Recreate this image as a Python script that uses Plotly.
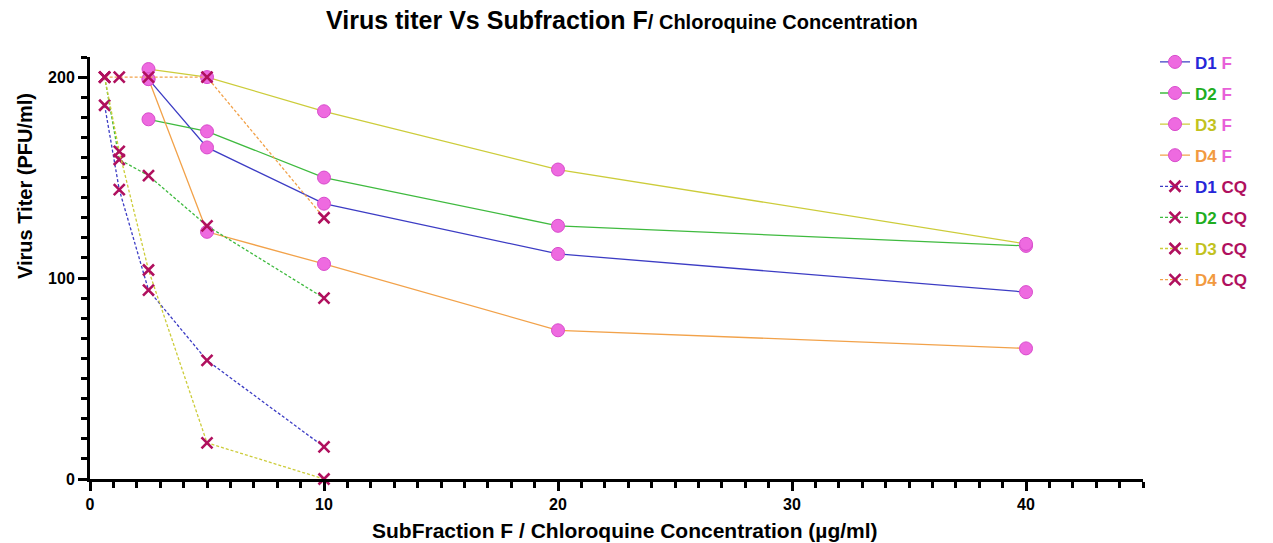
import plotly.graph_objects as go

# Concentrations
conc_f = [2.5, 5, 10, 20, 40]
conc_cq = [0.625, 1.25, 2.5, 5, 10]

# Subfraction F series (virus titer)
d1_f = [199, 165, 137, 112, 93]
d2_f = [179, 173, 150, 126, 116]
d3_f = [204, 200, 183, 154, 117]
d4_f = [199, 123, 107, 74, 65]

# Chloroquine series
d1_cq = [186, 144, 94, 59, 16]
d2_cq = [200, 159, 151, 126, 90]
d3_cq = [200, 163, 104, 18, 0]
d4_cq = [200, 200, 200, 200, 130]

names = ["D1", "D2", "D3", "D4"]
line_colors = ["#3c3cc4", "#3fba3f", "#cccc3a", "#f2a24a"]
text_colors = ["#2626d8", "#1fae1f", "#c2c21e", "#f29a40"]
F_COLOR = "#e860d8"
CQ_COLOR = "#b0105e"

# plot area at x 90..1143, y 57..479 (body margin removed via post_script)
W, H = 1273, 543
L, R, T, B = 90, 130, 57, 64
PH = H - T - B
PW = W - L - R

fig = go.Figure()

f_series = [d1_f, d2_f, d3_f, d4_f]
cq_series = [d1_cq, d2_cq, d3_cq, d4_cq]

for i, ys in enumerate(f_series):
    fig.add_trace(go.Scatter(
        x=conc_f, y=ys, mode="lines+markers",
        name=f"<b><span style='color:{text_colors[i]}'>{names[i]}</span> <span style='color:{F_COLOR}'>F</span></b>",
        line=dict(color=line_colors[i], width=1.3),
        marker=dict(symbol="circle", size=13, color="#ee6ae0", line=dict(color="#d84ccc", width=1)),
        legendgroup=f"f{i}", cliponaxis=False,
    ))

for i, ys in enumerate(cq_series):
    fig.add_trace(go.Scatter(
        x=conc_cq, y=ys, mode="lines+markers",
        name=f"<b><span style='color:{text_colors[i]}'>{names[i]}</span> <span style='color:{CQ_COLOR}'>CQ</span></b>",
        line=dict(color=line_colors[i], width=1.3, dash="3px,2px"),
        marker=dict(symbol="x-thin-open", size=11, color=CQ_COLOR, line=dict(color=CQ_COLOR, width=2.6)),
        legendgroup=f"c{i}", cliponaxis=False,
    ))

fig.update_layout(
    width=W, height=H,
    margin=dict(l=L, r=R, t=T, b=B, autoexpand=False),
    paper_bgcolor="white", plot_bgcolor="white",
    font=dict(family="Liberation Sans, Arial, sans-serif", color="black"),
    showlegend=True,
    legend=dict(
        x=1.0114, xanchor="left", y=1.03, yanchor="top",
        font=dict(size=17, family="Liberation Sans, Arial, sans-serif"),
        traceorder="grouped", tracegroupgap=6, maxheight=480,
        bgcolor="rgba(0,0,0,0)", itemwidth=30,
    ),
    xaxis=dict(
        range=[0, 45], tickvals=[0, 10, 20, 30, 40], ticktext=["<b>0</b>", "<b>10</b>", "<b>20</b>", "<b>30</b>", "<b>40</b>"],
        showgrid=False, zeroline=False, automargin=False,
        showline=True, linecolor="black", linewidth=3,
        ticks="outside", ticklen=9, tickwidth=2.5, tickcolor="black",
        tickfont=dict(size=16, color="black"),
        minor=dict(dtick=1, ticks="outside", ticklen=6, tickwidth=2.5, tickcolor="black", showgrid=False),
    ),
    yaxis=dict(
        range=[0, 210], tickvals=[0, 100, 200], ticktext=["<b>0</b>", "<b>100</b>", "<b>200</b>"],
        showgrid=False, zeroline=False, automargin=False,
        showline=True, linecolor="black", linewidth=3,
        ticks="outside", ticklen=9, tickwidth=2.5, tickcolor="black",
        tickfont=dict(size=16, color="black"),
        minor=dict(dtick=10, ticks="outside", ticklen=6, tickwidth=2.5, tickcolor="black", showgrid=False),
    ),
    annotations=[
        dict(text="<b>Virus titer Vs Subfraction F<span style='font-size:20px'>/ Chloroquine Concentration</span></b>",
             x=(622 - L) / PW, xref="paper", xanchor="center", y=1 + (T - 20) / PH, yref="paper", yanchor="middle",
             showarrow=False, font=dict(size=25, color="black")),
        dict(text="<b>Virus Titer (PFU/ml)</b>", textangle=-90,
             x=(25 - L) / PW, xref="paper", xanchor="center",
             y=(479 - 186) / PH, yref="paper", yanchor="middle", showarrow=False,
             font=dict(size=20, color="black")),
        dict(text="<b>SubFraction F / Chloroquine Concentration (µg/ml)</b>",
             x=(625 - L) / PW, xref="paper", xanchor="center",
             y=(479 - 530) / PH, yref="paper", yanchor="middle", showarrow=False,
             font=dict(size=21, color="black")),
    ],
)

fig.write_html("out.html", config={"displayModeBar": False},
               post_script="document.body.style.margin='0';document.body.style.overflow='hidden';")
